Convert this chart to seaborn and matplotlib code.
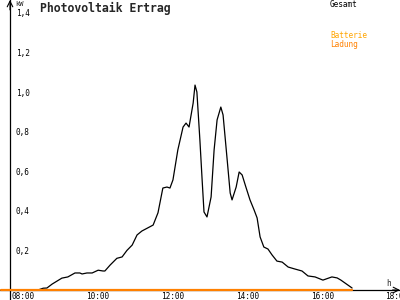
import matplotlib
matplotlib.use("Agg")
import matplotlib.pyplot as plt
import matplotlib.transforms as mtransforms
import seaborn as sns
import pandas as pd

# ---- data ----
gesamt_hours = [8.60, 8.74, 8.84, 8.98, 9.11, 9.24, 9.40, 9.59, 9.72, 9.78, 9.91, 10.05,
                10.21, 10.34, 10.39, 10.53, 10.71, 10.85, 10.98, 11.12, 11.25, 11.38, 11.68,
                11.81, 11.94, 12.05, 12.13, 12.21, 12.34, 12.48, 12.56, 12.64, 12.75, 12.80,
                12.85, 12.93, 12.99, 13.04, 13.12, 13.23, 13.31, 13.39, 13.49, 13.55, 13.66,
                13.74, 13.79, 13.90, 13.98, 14.06, 14.16, 14.27, 14.38, 14.46, 14.54, 14.64,
                14.75, 14.86, 14.99, 15.13, 15.29, 15.47, 15.66, 15.82, 16.01, 16.22, 16.46,
                16.60, 16.70, 17.00]
gesamt_kw = [0.0, 0.009, 0.01, 0.03, 0.045, 0.06, 0.066, 0.086, 0.086, 0.081, 0.086, 0.086,
             0.10, 0.096, 0.096, 0.126, 0.16, 0.167, 0.20, 0.227, 0.278, 0.298, 0.328,
             0.39, 0.515, 0.52, 0.515, 0.556, 0.707, 0.823, 0.843, 0.823, 0.944, 1.035,
             1.0, 0.758, 0.556, 0.394, 0.369, 0.47, 0.707, 0.859, 0.924, 0.884, 0.657,
             0.49, 0.455, 0.52, 0.596, 0.581, 0.52, 0.455, 0.404, 0.364, 0.268, 0.217,
             0.207, 0.177, 0.146, 0.141, 0.116, 0.106, 0.096, 0.071, 0.066, 0.05, 0.066,
             0.061, 0.05, 0.01]
ladung_hours = [7.6, 17.0]
ladung_kw = [0.0, 0.0]

x_ticks = [8, 10, 12, 14, 16, 18]
x_labels = ["08:00", "10:00", "12:00", "14:00", "16:00", "18:00"]
y_ticks = [0.2, 0.4, 0.6, 0.8, 1.0, 1.2, 1.4]
y_labels = ["0,2", "0,4", "0,6", "0,8", "1,0", "1,2", "1,4"]

title = "Photovoltaik Ertrag"
legend_items = ["Gesamt", "Batterie", "Ladung"]

# ---- plot ----
sns.set_style("white")
plt.rcParams["font.family"] = ["DejaVu Sans Mono", "DejaVu Sans"]

fig = plt.figure(figsize=(4, 3), dpi=100)
ax = fig.add_axes([0, 0, 1, 1])

x0 = 8 + (0 - 15.5) / 37.4
x1 = 8 + (400 - 15.5) / 37.4
y0 = (290 - 300) / 198
y1 = 290 / 198
ax.set_xlim(x0, x1)
ax.set_ylim(y0, y1)
yaxis_x = 8 + (10 - 15.5) / 37.4

df_g = pd.DataFrame({"t": gesamt_hours, "kw": gesamt_kw})
df_l = pd.DataFrame({"t": ladung_hours, "kw": ladung_kw})

sns.lineplot(data=df_g, x="t", y="kw", ax=ax, color="black", lw=0.9, zorder=3)
sns.lineplot(data=df_l, x="t", y="kw", ax=ax, color="#FF8000", lw=1.6, zorder=4)

for s in ["top", "right"]:
    ax.spines[s].set_visible(False)
ax.spines["left"].set_position(("data", yaxis_x))
ax.spines["bottom"].set_position(("data", 0))
for s in ["left", "bottom"]:
    ax.spines[s].set_color("black")
    ax.spines[s].set_linewidth(0.9)

ax.set_xticks(x_ticks)
ax.set_xticklabels(x_labels, fontsize=5.6, ha="left")
ax.set_yticks(y_ticks)
ax.set_yticklabels(y_labels, fontsize=5.6, ha="left")
ax.tick_params(axis="x", direction="inout", length=5.5, width=0.8, pad=-1.2, colors="black")
ax.tick_params(axis="y", direction="inout", length=5, width=0.8, pad=-6.8, colors="black")
shift = mtransforms.ScaledTranslation(-4 / 100, 0, fig.dpi_scale_trans)
for lbl in ax.get_xticklabels():
    lbl.set_transform(lbl.get_transform() + shift)
ax.set_xlabel("")
ax.set_ylabel("")

# arrows
ax.annotate("", xy=(yaxis_x, y1), xytext=(yaxis_x, y1 - 0.05),
            arrowprops=dict(arrowstyle="->", lw=0.8, color="black", shrinkA=0, shrinkB=0))
ax.annotate("", xy=(x1, 0), xytext=(x1 - 0.2, 0),
            arrowprops=dict(arrowstyle="->", lw=0.8, color="black", shrinkA=0, shrinkB=0))

# texts
fig.text(40 / 400, 1 - 8 / 300, title, fontsize=8.3, fontweight="bold", va="center", ha="left")
fig.text(15 / 400, 1 - 4 / 300, "kW", fontsize=5.0, va="center", ha="left")
fig.text(386 / 400, 1 - 283 / 300, "h", fontsize=5.6, va="center", ha="left")
fig.text(330 / 400, 1 - 4.5 / 300, legend_items[0], fontsize=5.6, va="center", ha="left", color="black")
fig.text(330 / 400, 1 - 36 / 300, legend_items[1], fontsize=5.6, va="center", ha="left", color="#FFA500")
fig.text(330 / 400, 1 - 44 / 300, legend_items[2], fontsize=5.6, va="center", ha="left", color="#FF8000")

fig.savefig("out.png", dpi=100)
